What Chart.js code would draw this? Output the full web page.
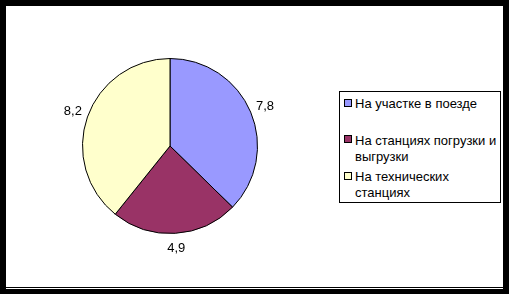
<!DOCTYPE html>
<html>
<head>
<meta charset="utf-8">
<script src="https://cdn.jsdelivr.net/npm/chart.js@4"></script>
<style>
  html, body { margin: 0; padding: 0; }
  body { width: 509px; height: 294px; background: #000; position: relative; overflow: hidden;
         font-family: 'Liberation Sans', Arial, sans-serif; }
  #frame { position: absolute; left: 6px; top: 6px; width: 497px; height: 281px; background: #fff; }
  #rule  { position: absolute; left: 6px; top: 288px; width: 497px; height: 1px; background: #fff; }
  #pie   { position: absolute; left: 40px; top: 16px; width: 260px; height: 260px; }
  #legend { position: absolute; left: 339px; top: 91px; width: 162px; height: 112px;
            border: 1px solid #000; box-sizing: border-box; background: #fff; }
  .item { position: absolute; left: 15px; white-space: nowrap; font-size: 13px; line-height: 16px; color: #000; }
  .box  { position: absolute; width: 8px; height: 8px; border: 1px solid #000; box-sizing: border-box; }
</style>
</head>
<body>
<div id="frame"></div>
<div id="rule"></div>
<canvas id="pie" width="260" height="260"></canvas>
<div id="legend"></div>
<script>
/* ─── data ─── */
const labels = [['На участке в поезде'], ['На станциях погрузки и', 'выгрузки'], ['На технических', 'станциях']];
const values = [7.8, 4.9, 8.2];
const colors = ['#9999ff', '#993366', '#ffffcc'];

/* value labels just outside the pie */
const outsideLabels = {
    id: 'outsideLabels',
    afterDatasetsDraw(chart) {
        const ctx = chart.ctx;
        ctx.save();
        ctx.font = '13px "Liberation Sans", Arial, sans-serif';
        ctx.fillStyle = '#000';
        ctx.textAlign = 'center';
        ctx.textBaseline = 'middle';
        chart.getDatasetMeta(0).data.forEach((arc, i) => {
            const p = arc.getProps(['x', 'y', 'startAngle', 'endAngle', 'outerRadius'], true);
            const mid = (p.startAngle + p.endAngle) / 2;
            const r = p.outerRadius + 15.5;
            ctx.fillText(String(values[i]).replace('.', ','), p.x + Math.cos(mid) * r, p.y + Math.sin(mid) * r);
        });
        ctx.restore();
    }
};

new Chart(document.getElementById('pie'), {
    type: 'pie',
    data: {
        labels: labels.map(l => l.join(' ')),
        datasets: [{
            data: values,
            backgroundColor: colors,
            borderColor: '#000',
            borderWidth: 1,
        }]
    },
    options: {
        animation: false,
        responsive: false,
        radius: 87.5,
        layout: { padding: 0 },
        plugins: {
            legend: { display: false },
            tooltip: { enabled: false }
        }
    },
    plugins: [outsideLabels]
});

/* legend: one slot per entry, text broken like the original */
const legend = document.getElementById('legend');
labels.forEach((lines, i) => {
    const top = 4 + i * 36.7;
    const item = document.createElement('div');
    item.className = 'item';
    item.style.top = top + 'px';
    item.innerHTML = lines.join('<br>');
    const box = document.createElement('div');
    box.className = 'box';
    box.style.left = '4px';
    box.style.top = (top + 2.5) + 'px';
    box.style.background = colors[i];
    legend.appendChild(box);
    legend.appendChild(item);
});
</script>
</body>
</html>
